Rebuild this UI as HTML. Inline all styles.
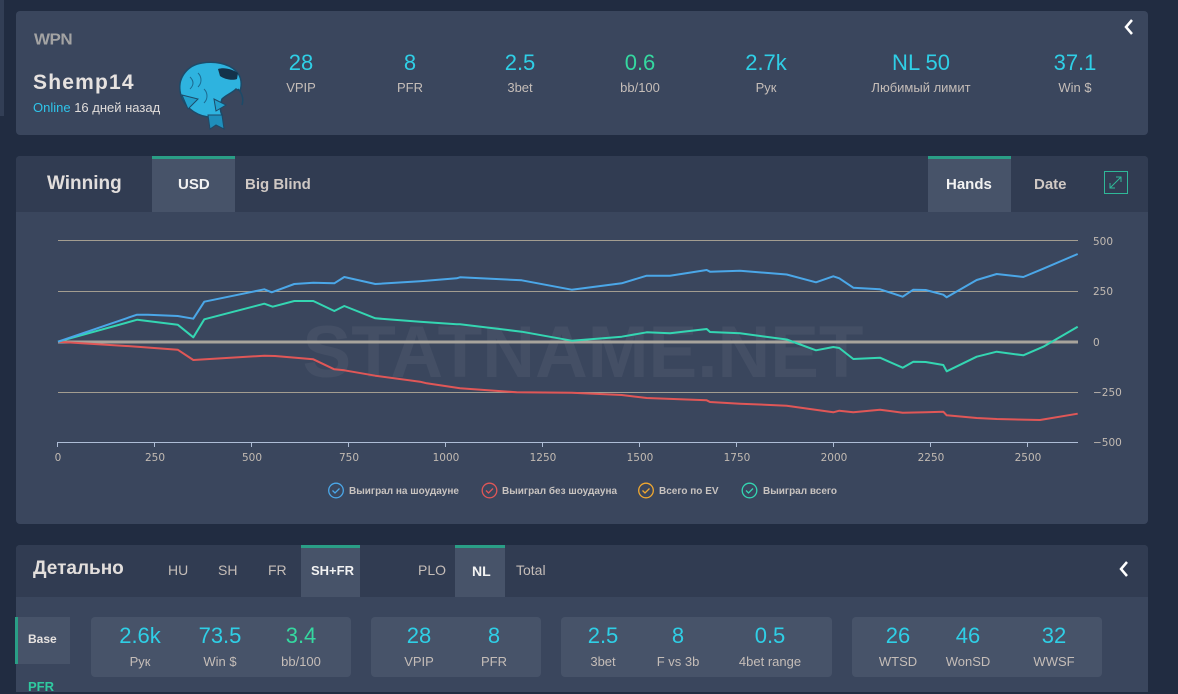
<!DOCTYPE html>
<html><head><meta charset="utf-8">
<style>
*{margin:0;padding:0;box-sizing:border-box}
html,body{width:1178px;height:692px;overflow:hidden;background:#212c41;font-family:"Liberation Sans",sans-serif}
.abs{position:absolute}
.card{position:absolute;background:#3a465d;border-radius:4px;overflow:hidden}
.hdr{position:absolute;left:0;right:0;top:0;background:#313c52}
.val{position:absolute;transform:translateX(-50%);font-size:22px;color:#2fcfe6;white-space:nowrap;line-height:1}
.lab{position:absolute;transform:translateX(-50%);font-size:13px;color:#c5bdb8;white-space:nowrap;line-height:1}
.g{color:#35d8a0}
.tab{position:absolute;background:#475369;border-top:3px solid #2a9e86}
.tt{position:absolute;white-space:nowrap;line-height:1}
.box{position:absolute;background:#475369;border-radius:4px}
</style></head><body>
<div class="abs" style="left:0;top:0;width:4px;height:116px;background:#323e55"></div>

<!-- Card 1 -->
<div class="card" style="left:16px;top:11px;width:1132px;height:124px">
  <div class="tt" style="left:18px;top:21px;font-size:17px;font-weight:900;color:#a3a3a3;letter-spacing:-0.5px;transform:scaleY(0.9);transform-origin:top left">WPN</div>
  <div class="tt" style="left:17px;top:61px;font-size:21px;font-weight:bold;color:#e6e2e0;letter-spacing:1.2px">Shemp14</div>
  <div class="tt" style="left:17px;top:90px;font-size:13px;color:#e0dcda"><span style="color:#2fc4ea">Online</span> 16 дней назад</div>
  <svg class="abs" style="left:158px;top:48px" width="74" height="72" viewBox="0 0 74 72">
    <path d="M34 58 C20 56 8 46 6 32 C4 18 14 6 28 4 C40 2 54 4 62 12 C68 18 68 26 66 32 L62 30 C58 34 52 36 48 40 C46 46 46 52 48 56 Z" fill="#2eb3df" stroke="#1d4a68" stroke-width="1.5"/>
    <path d="M34 56 L48 56 L50 70 L42 66 L36 70 Z" fill="#1f8fbc" stroke="#1d4a68" stroke-width="1"/>
    <path d="M44 10 C50 8 58 10 64 14 L63 20 C58 22 50 20 46 17 Z" fill="#14324a"/>
    <path d="M8 36 L24 40 L14 50 Z" fill="#23a0cc" stroke="#1d4a68" stroke-width="1"/>
    <path d="M40 40 L52 46 L42 52 Z" fill="#23a0cc" stroke="#1d4a68" stroke-width="1"/>
    <path d="M64 30 C68 34 70 40 68 46" fill="none" stroke="#1d4a68" stroke-width="1.5"/>
    <path d="M16 18 C20 22 20 26 16 30 M24 14 C28 18 28 24 24 28 M30 30 C34 34 34 40 30 44" fill="none" stroke="#1d6a90" stroke-width="1"/>
  </svg>
  <div class="val" style="left:285px;top:41px">28</div><div class="lab" style="left:285px;top:70px">VPIP</div>
  <div class="val" style="left:394px;top:41px">8</div><div class="lab" style="left:394px;top:70px">PFR</div>
  <div class="val" style="left:504px;top:41px">2.5</div><div class="lab" style="left:504px;top:70px">3bet</div>
  <div class="val g" style="left:624px;top:41px">0.6</div><div class="lab" style="left:624px;top:70px">bb/100</div>
  <div class="val" style="left:750px;top:41px">2.7k</div><div class="lab" style="left:750px;top:70px">Рук</div>
  <div class="val" style="left:905px;top:41px">NL 50</div><div class="lab" style="left:905px;top:70px">Любимый лимит</div>
  <div class="val" style="left:1059px;top:41px">37.1</div><div class="lab" style="left:1059px;top:70px">Win $</div>
  <svg class="abs" style="left:1106px;top:7px" width="14" height="18"><path d="M10 2 L4 9 L10 16" fill="none" stroke="#fff" stroke-width="2.5"/></svg>
</div>

<!-- Card 2 -->
<div class="card" style="left:16px;top:156px;width:1132px;height:368px">
  <div class="hdr" style="height:56px"></div>
  <div class="tt" style="left:31px;top:18px;font-size:19px;font-weight:bold;color:#e2dedc">Winning</div>
  <div class="tab" style="left:136px;top:0;width:83px;height:56px"></div>
  <div class="tt" style="left:162px;top:21px;font-size:15px;font-weight:bold;color:#f2f2f2">USD</div>
  <div class="tt" style="left:229px;top:21px;font-size:15px;font-weight:bold;color:#cfc8c4">Big Blind</div>
  <div class="tab" style="left:912px;top:0;width:83px;height:56px"></div>
  <div class="tt" style="left:930px;top:21px;font-size:15px;font-weight:bold;color:#f2f2f2">Hands</div>
  <div class="tt" style="left:1018px;top:21px;font-size:15px;font-weight:bold;color:#cfc8c4">Date</div>
  <svg class="abs" style="left:1088px;top:15px" width="24" height="24">
    <rect x="0.5" y="0.5" width="23" height="22" fill="none" stroke="#2fb898" stroke-width="1"/>
    <path d="M6 17 L17 6 M12 6 L17 6 L17 11 M6 12 L6 17 L11 17" fill="none" stroke="#2fb898" stroke-width="1"/>
  </svg>
</div>

<svg class="abs" style="left:0;top:0" width="1178" height="692">
  <text x="583" y="377" text-anchor="middle" font-family="Liberation Sans" font-weight="bold" font-size="73" fill="#ffffff" fill-opacity="0.05">STATNAME.NET</text>
  <g stroke="#a39d90" stroke-width="1">
    <line x1="58" y1="240.5" x2="1078" y2="240.5"/>
    <line x1="58" y1="291.5" x2="1078" y2="291.5"/>
    <line x1="58" y1="392.5" x2="1078" y2="392.5"/>
  </g>
  <line x1="58" y1="342" x2="1078" y2="342" stroke="#a8a49c" stroke-width="3"/>
  <g stroke="#aebdd6" stroke-width="1">
    <line x1="57" y1="442.5" x2="1078" y2="442.5"/>
    <line x1="57.5" y1="442" x2="57.5" y2="447"/>
    <line x1="154.5" y1="442" x2="154.5" y2="447"/>
    <line x1="251.5" y1="442" x2="251.5" y2="447"/>
    <line x1="348.5" y1="442" x2="348.5" y2="447"/>
    <line x1="445.5" y1="442" x2="445.5" y2="447"/>
    <line x1="542.5" y1="442" x2="542.5" y2="447"/>
    <line x1="639.5" y1="442" x2="639.5" y2="447"/>
    <line x1="736.5" y1="442" x2="736.5" y2="447"/>
    <line x1="833.5" y1="442" x2="833.5" y2="447"/>
    <line x1="930.5" y1="442" x2="930.5" y2="447"/>
    <line x1="1027.5" y1="442" x2="1027.5" y2="447"/>
  </g>
  <g font-family="DejaVu Sans" font-size="10.5" fill="#c2bab2" text-anchor="middle">
    <text x="58" y="461">0</text><text x="155" y="461">250</text><text x="252" y="461">500</text>
    <text x="349" y="461">750</text><text x="446" y="461">1000</text><text x="543" y="461">1250</text>
    <text x="640" y="461">1500</text><text x="737" y="461">1750</text><text x="834" y="461">2000</text>
    <text x="931" y="461">2250</text><text x="1028" y="461">2500</text>
  </g>
  <g font-family="DejaVu Sans" font-size="10.5" fill="#c2bab2">
    <text x="1093" y="245">500</text><text x="1093" y="295">250</text><text x="1093" y="346">0</text>
    <text x="1093" y="396">−250</text><text x="1093" y="446">−500</text>
  </g>
  <g fill="none" stroke-width="2" stroke-linejoin="round">
    <polyline stroke="#e05757" points="58,341.7 137.3,346.7 177.7,349.7 193.3,360 264.3,355.7 275,356 313.3,359.3 334.3,369.3 344.3,370.3 375.3,375.7 420,381.7 426.7,383.3 460,388.3 516.7,392.3 571.7,392.7 621.7,395 646.7,398 706.7,400.3 710,402 740,403.7 786.7,405.7 833.3,412.3 839.3,410.7 853.3,412.3 880,409.7 902.7,412.7 925.7,412.3 943.3,411.7 946.7,415.3 976.7,418 996.7,419 1040,420 1077.7,413.7"/>
    <polyline stroke="#34d6b2" points="58,341.7 137.3,319.7 177.7,324.7 193.3,337.3 204.3,319.3 264.3,303.7 272.7,306.7 294.3,301 313.3,301 334.3,311 344.3,306 375.3,318.3 420,321.7 456.7,324.3 460,324.3 521.7,331.7 571.7,340.7 621.7,336.7 646.7,332.3 670,333.3 706.7,329 710,332 740,333.3 786.7,339.5 816,350.3 833.3,347 839.3,348 853.3,359 880,357.7 902.7,367.7 913.3,361.7 925.7,362 943.3,365 946.7,371.3 976.7,356.7 996.7,351.7 1023.3,355.3 1043.3,346.7 1077.7,326.7"/>
    <polyline stroke="#4ba7e8" points="58,341.7 137,314.7 148,314.7 177.7,316 193.3,318.7 204.3,301.7 264.3,289.3 271.7,292.3 294.3,284 313.3,282.7 334.3,283.3 344.3,277 375.3,284 420,281.3 456.7,278.3 460,277.3 521.7,280.3 571.7,289.7 621.7,283.3 646.7,275.7 670,275.7 706.7,270 710,271.7 740,270.7 786.7,274.5 816,282.3 833.3,276.3 839.3,278.3 853.3,287.7 880,289.3 902.7,296.7 913.3,289.7 925.7,290 943.3,294.7 946.7,297.3 976.7,280 996.7,274 1023.3,277 1043.3,268.7 1077.7,254"/>
  </g>
  <g fill="none" stroke-width="1.3">
    <circle cx="336" cy="490.5" r="7.3" stroke="#4ba7e8"/><path d="M332.5 490.5 l2.5 2.5 l4.5 -4.5" stroke="#4ba7e8"/>
    <circle cx="489.5" cy="490.5" r="7.3" stroke="#e05757"/><path d="M486 490.5 l2.5 2.5 l4.5 -4.5" stroke="#e05757"/>
    <circle cx="646" cy="490.5" r="7.3" stroke="#f0a830"/><path d="M642.5 490.5 l2.5 2.5 l4.5 -4.5" stroke="#f0a830"/>
    <circle cx="749.5" cy="490.5" r="7.3" stroke="#34d6b2"/><path d="M746 490.5 l2.5 2.5 l4.5 -4.5" stroke="#34d6b2"/>
  </g>
  <g font-family="Liberation Sans" font-weight="bold" font-size="10" fill="#c8c3c0">
    <text x="349" y="494">Выиграл на шоудауне</text>
    <text x="502" y="494">Выиграл без шоудауна</text>
    <text x="659" y="494">Всего по EV</text>
    <text x="763" y="494">Выиграл всего</text>
  </g>
</svg>

<!-- Card 3 -->
<div class="card" style="left:16px;top:545px;width:1132px;height:147px;border-bottom-left-radius:0;border-bottom-right-radius:0">
  <div class="hdr" style="height:52px"></div>
  <div class="tt" style="left:17px;top:14px;font-size:19px;font-weight:bold;color:#e2dedc">Детально</div>
  <div class="tt" style="left:152px;top:18px;font-size:14px;color:#c5bdb8">HU</div>
  <div class="tt" style="left:202px;top:18px;font-size:14px;color:#c5bdb8">SH</div>
  <div class="tt" style="left:252px;top:18px;font-size:14px;color:#c5bdb8">FR</div>
  <div class="tab" style="left:285px;top:0;width:59px;height:52px"></div>
  <div class="tt" style="left:295px;top:19px;font-size:13px;font-weight:bold;color:#f2f2f2">SH+FR</div>
  <div class="tt" style="left:402px;top:18px;font-size:14px;color:#c5bdb8">PLO</div>
  <div class="tab" style="left:439px;top:0;width:50px;height:52px"></div>
  <div class="tt" style="left:456px;top:19px;font-size:14px;font-weight:bold;color:#f2f2f2">NL</div>
  <div class="tt" style="left:500px;top:18px;font-size:14px;color:#c5bdb8">Total</div>
  <svg class="abs" style="left:1101px;top:15px" width="14" height="18"><path d="M10 2 L4 9 L10 16" fill="none" stroke="#fff" stroke-width="2.5"/></svg>
</div>
<div class="abs" style="left:15px;top:617px;width:55px;height:47px;background:#475369;border-left:3px solid #2a9e86"></div>
<div class="tt abs" style="left:28px;top:633px;font-size:12px;font-weight:bold;color:#e6e2e0">Base</div>
<div class="tt abs" style="left:28px;top:680px;font-size:13px;font-weight:bold;color:#2fc9a0">PFR</div>

<div class="box" style="left:91px;top:617px;width:260px;height:60px"></div>
<div class="box" style="left:371px;top:617px;width:170px;height:60px"></div>
<div class="box" style="left:561px;top:617px;width:271px;height:60px"></div>
<div class="box" style="left:852px;top:617px;width:250px;height:60px"></div>

<div class="val" style="left:140px;top:625px">2.6k</div><div class="lab" style="left:140px;top:655px">Рук</div>
<div class="val" style="left:220px;top:625px">73.5</div><div class="lab" style="left:220px;top:655px">Win $</div>
<div class="val g" style="left:301px;top:625px">3.4</div><div class="lab" style="left:301px;top:655px">bb/100</div>
<div class="val" style="left:419px;top:625px">28</div><div class="lab" style="left:419px;top:655px">VPIP</div>
<div class="val" style="left:494px;top:625px">8</div><div class="lab" style="left:494px;top:655px">PFR</div>
<div class="val" style="left:603px;top:625px">2.5</div><div class="lab" style="left:603px;top:655px">3bet</div>
<div class="val" style="left:678px;top:625px">8</div><div class="lab" style="left:678px;top:655px">F vs 3b</div>
<div class="val" style="left:770px;top:625px">0.5</div><div class="lab" style="left:770px;top:655px">4bet range</div>
<div class="val" style="left:898px;top:625px">26</div><div class="lab" style="left:898px;top:655px">WTSD</div>
<div class="val" style="left:968px;top:625px">46</div><div class="lab" style="left:968px;top:655px">WonSD</div>
<div class="val" style="left:1054px;top:625px">32</div><div class="lab" style="left:1054px;top:655px">WWSF</div>
</body></html>
